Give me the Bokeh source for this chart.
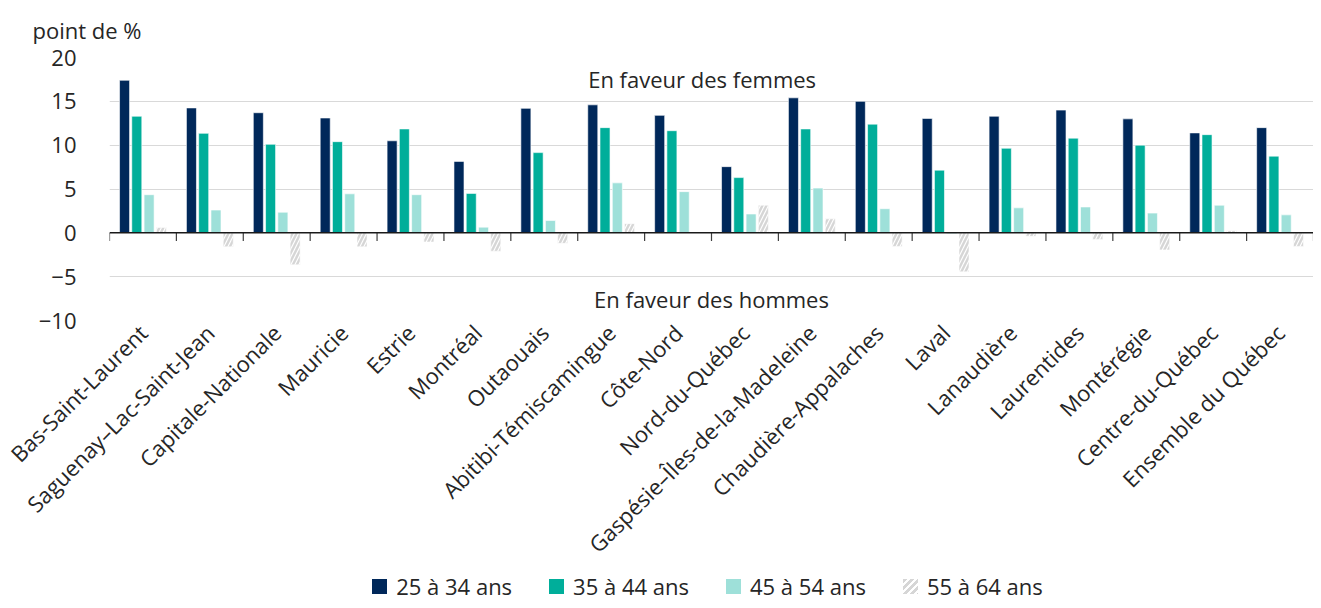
import math
from bokeh.plotting import figure
from bokeh.layouts import column
from bokeh.models import (ColumnDataSource, Range1d, FixedTicker, Span, Label, Div)
from bokeh.transform import dodge
from bokeh.embed import file_html
from bokeh.resources import INLINE

regions = ["Bas-Saint-Laurent", "Saguenay–Lac-Saint-Jean", "Capitale-Nationale", "Mauricie",
           "Estrie", "Montréal", "Outaouais", "Abitibi-Témiscamingue", "Côte-Nord",
           "Nord-du-Québec", "Gaspésie–Îles-de-la-Madeleine", "Chaudière-Appalaches", "Laval",
           "Lanaudière", "Laurentides", "Montérégie", "Centre-du-Québec", "Ensemble du Québec"]
age_25_34 = [17.4, 14.25, 13.7, 13.1, 10.5, 8.15, 14.2, 14.6, 13.4, 7.55, 15.4, 15.0, 13.05, 13.3, 14.0, 13.0, 11.4, 12.0]
age_35_44 = [13.3, 11.35, 10.1, 10.4, 11.85, 4.5, 9.15, 12.0, 11.65, 6.3, 11.85, 12.4, 7.15, 9.65, 10.8, 10.0, 11.2, 8.75]
age_45_54 = [4.35, 2.6, 2.35, 4.45, 4.35, 0.65, 1.4, 5.7, 4.7, 2.15, 5.1, 2.75, -0.1, 2.85, 2.95, 2.25, 3.15, 2.05]
age_55_64 = [0.6, -1.6, -3.65, -1.6, -1.05, -2.1, -1.2, 1.05, 0.0, 3.15, 1.6, -1.55, -4.45, -0.4, -0.75, -1.95, 0.25, -1.55]
series_names = ["25 à 34 ans", "35 à 44 ans", "45 à 54 ans", "55 à 64 ans"]
y_ticks = [-10, -5, 0, 5, 10, 15, 20]

FONT = "Open Sans"
TXT = "#262626"

n = len(regions)
pos = list(range(1, n + 1))
src = ColumnDataSource(dict(pos=pos, region=regions, a=age_25_34, b=age_35_44, c=age_45_54, d=age_55_64))

p = figure(width=1313, height=572, x_range=Range1d(0.5, n + 0.5),
           y_range=Range1d(-10, 20), output_backend="svg", toolbar_location=None,
           min_border_left=109, min_border_right=0, min_border_top=48, min_border_bottom=0)
p.outline_line_color = None
p.background_fill_color = "white"

colors = ["#00285a", "#00ae9a", "#9ee0d9", "#d6d6d6"]
offsets = [-0.275, -0.092, 0.092, 0.275]
keys = ["a", "b", "c", "d"]
for k, col, off in zip(keys, colors, offsets):
    kw = {}
    if k == "d":
        kw = dict(hatch_pattern="/", hatch_color="white", hatch_scale=8, hatch_weight=1.2)
    p.vbar(x=dodge("pos", off), top=k, width=0.15, source=src,
           fill_color=col, line_color="white", line_width=0.6, **kw)

# category label axis
xa = p.xaxis[0]
xa.ticker = FixedTicker(ticks=pos)
xa.major_label_overrides = {i: name for i, name in zip(pos, regions)}
xa.axis_line_color = None
xa.major_tick_line_color = None
xa.major_tick_out = 0
xa.major_tick_in = 0
xa.minor_tick_line_color = None
xa.major_label_orientation = math.pi / 4
xa.major_label_text_font = FONT
xa.major_label_text_font_size = "22px"
xa.major_label_text_color = TXT
xa.major_label_standoff = 8

ya = p.yaxis[0]
ya.ticker = FixedTicker(ticks=y_ticks)
ya.axis_line_color = None
ya.major_tick_line_color = None
ya.major_tick_out = 0
ya.major_tick_in = 0
ya.minor_tick_line_color = None
ya.major_label_text_font = FONT
ya.major_label_text_font_size = "22px"
ya.major_label_text_color = TXT
ya.major_label_standoff = 33
ya.major_label_overrides = {t: (str(t).replace("-", "\u2212")) for t in y_ticks}

p.xgrid.grid_line_color = None
p.ygrid.ticker = FixedTicker(ticks=[t for t in y_ticks if t != 0])
p.ygrid.grid_line_color = "#d9d9d9"
p.ygrid.grid_line_width = 1.2

# zero line with ticks between categories
bounds = [i + 0.5 for i in range(n + 1)]
p.segment(x0=bounds, y0=[0] * len(bounds), x1=bounds, y1=[-0.92] * len(bounds),
          line_color="#404040", line_width=1.2)
p.add_layout(Span(location=0, dimension="width", line_color="#1a1a1a", line_width=1.5))

# annotations
p.add_layout(Label(x=9.36, y=17.6, text="En faveur des femmes", text_align="center",
                   text_baseline="middle", text_font=FONT, text_font_size="22px", text_color=TXT))
p.add_layout(Label(x=9.5, y=-7.5, text="En faveur des hommes", text_align="center",
                   text_baseline="middle", text_font=FONT, text_font_size="22px", text_color=TXT))

p.title.text = "point de %"
p.title.align = "left"
p.title.offset = -77
p.title.standoff = 25
p.title.text_font = FONT
p.title.text_font_size = "22px"
p.title.text_font_style = "normal"
p.title.text_color = TXT

# legend row (HTML) below the chart, centred on the plot frame
swatch_css = [
    "background:#00285a;",
    "background:#00ae9a;",
    "background:#9ee0d9;",
    "background:repeating-linear-gradient(135deg,#d6d6d6 0px,#d6d6d6 3px,#ffffff 3px,#ffffff 5px);",
]
items_html = "".join(
    f'<span style="display:inline-flex;align-items:center;">'
    f'<span style="display:inline-block;width:15px;height:15px;margin-right:9px;{css}"></span>'
    f'<span>{name}</span></span>'
    for css, name in zip(swatch_css, series_names)
)
legend_html = (
    f'<div style="box-sizing:border-box;width:1313px;height:28px;padding-left:102px;'
    f'display:flex;justify-content:center;align-items:center;gap:37px;'
    f'font-family:\'Open Sans\';font-size:22px;color:{TXT};line-height:28px;white-space:nowrap;">'
    f'{items_html}</div>'
)
legend_div = Div(text=legend_html, width=1313, height=28, margin=0)

layout = column(p, legend_div, spacing=0)
open("out.html", "w").write(file_html(layout, INLINE))
